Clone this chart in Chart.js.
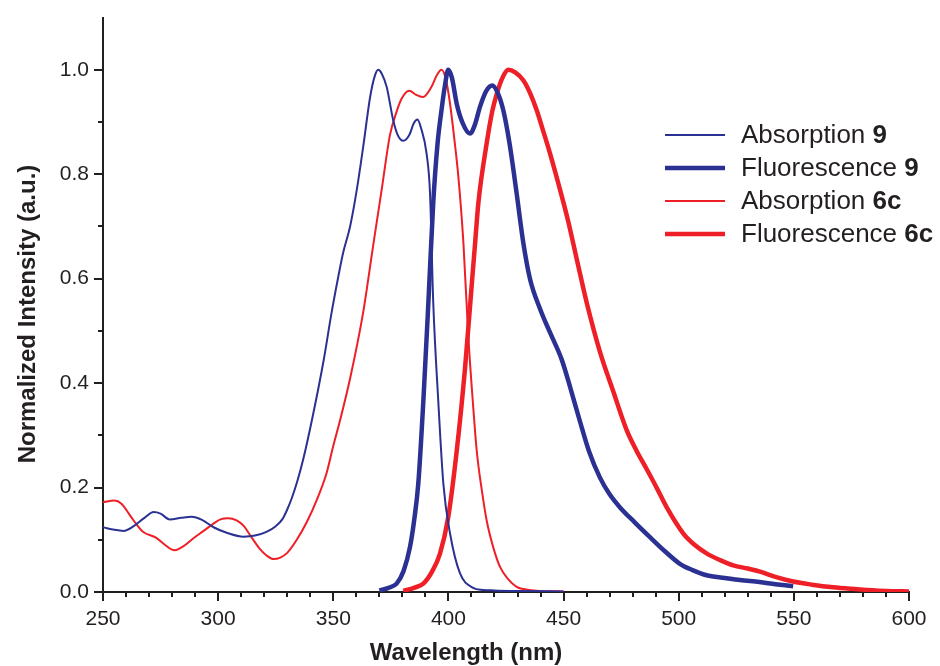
<!DOCTYPE html>
<html>
<head>
<meta charset="utf-8">
<script src="https://cdn.jsdelivr.net/npm/chart.js@4.4.1/dist/chart.umd.min.js"></script>
<style>
    body { margin: 0; background: #fff; }
    #chart { display: block; }
</style>
</head>
<body>
<canvas id="chart" width="940" height="666"></canvas>
<script>
// wavelength (nm) / normalized intensity
const abs9X = [250, 255, 259, 263, 268, 272, 275, 279, 284, 288.5, 293, 298, 304, 311, 316, 321, 325, 328, 330, 332, 334.5, 337, 341, 345.7, 349.3, 352, 354.3, 357.3, 360.2, 363, 366, 368, 369.5, 371, 373.2, 376, 378, 380.4, 383, 385, 386.6, 388, 390.5, 392, 393.4, 395.6, 397.8, 400.7, 405, 410.7, 415, 420, 430, 450];
const abs9Y = [0.124, 0.119, 0.117, 0.125, 0.142, 0.153, 0.150, 0.139, 0.142, 0.144, 0.138, 0.124, 0.113, 0.106, 0.108, 0.115, 0.126, 0.14, 0.158, 0.18, 0.214, 0.255, 0.335, 0.441, 0.536, 0.6, 0.65, 0.7, 0.77, 0.853, 0.948, 0.988, 1.0, 0.993, 0.967, 0.904, 0.875, 0.864, 0.875, 0.898, 0.905, 0.89, 0.84, 0.764, 0.555, 0.365, 0.207, 0.112, 0.036, 0.008, 0.004, 0.003, 0.002, 0.001];

const fl9X = [370, 374, 377.5, 380.5, 383.3, 385.2, 386.9, 389.1, 391.3, 393.4, 395.3, 397, 398.5, 399.9, 401.5, 403.6, 406, 409.4, 411.5, 413.7, 416.5, 419, 421.5, 423.8, 426.5, 429.6, 432.5, 435.4, 439.8, 444.1, 449.2, 453, 457.1, 461, 465.8, 470, 474.5, 481, 487.5, 494, 500.5, 506, 512.1, 520, 526.6, 535, 542, 549.7];
const fl9Y = [0.003, 0.008, 0.016, 0.04, 0.086, 0.14, 0.207, 0.365, 0.555, 0.745, 0.86, 0.923, 0.97, 1.0, 0.985, 0.935, 0.9, 0.878, 0.895, 0.929, 0.96, 0.97, 0.955, 0.923, 0.86, 0.764, 0.669, 0.6, 0.542, 0.497, 0.445, 0.39, 0.327, 0.27, 0.219, 0.187, 0.162, 0.133, 0.105, 0.078, 0.054, 0.042, 0.032, 0.027, 0.023, 0.019, 0.015, 0.011];

const abs6cX = [250, 255, 258, 262, 265, 267.5, 273, 277, 281, 285, 289, 294, 298, 301, 304.4, 308, 311, 314, 318, 321, 324, 327, 330, 334, 338.4, 342.8, 347.1, 350, 353, 357.3, 363, 367.3, 371, 374.6, 377.5, 379.7, 383, 386, 389, 392.6, 395, 397, 399, 400.7, 402.5, 404.3, 406.5, 408.6, 410.5, 412.3, 414.5, 416.6, 419.5, 422.4, 426, 429.6, 435, 440, 450];
const abs6cY = [0.172, 0.175, 0.169, 0.145, 0.127, 0.115, 0.104, 0.09, 0.08, 0.088, 0.102, 0.118, 0.131, 0.139, 0.141, 0.137, 0.127, 0.108, 0.083, 0.07, 0.063, 0.066, 0.075, 0.099, 0.133, 0.176, 0.228, 0.28, 0.33, 0.409, 0.536, 0.663, 0.77, 0.875, 0.92, 0.945, 0.96, 0.952, 0.948, 0.967, 0.99, 1.0, 0.98, 0.935, 0.87, 0.796, 0.669, 0.492, 0.37, 0.27, 0.195, 0.137, 0.085, 0.048, 0.024, 0.01, 0.004, 0.002, 0.001];

const fl6cX = [380.4, 385, 389.1, 393, 396.3, 399.9, 403.6, 407.2, 410.1, 411.6, 413, 416.6, 419, 421, 423.5, 426, 429, 432.5, 435.5, 438.3, 441, 444.1, 448, 452, 456, 460, 465.8, 471.6, 477.4, 481.5, 486, 490.5, 494.8, 502, 507, 512.1, 518, 523.7, 530, 535.3, 542, 549.7, 558, 567.1, 575, 581.6, 590, 600];
const fl6cY = [0.002, 0.008, 0.016, 0.04, 0.073, 0.143, 0.27, 0.428, 0.587, 0.669, 0.745, 0.859, 0.92, 0.954, 0.985, 1.0, 0.995, 0.98, 0.955, 0.923, 0.885, 0.84, 0.778, 0.71, 0.632, 0.555, 0.46, 0.384, 0.31, 0.272, 0.236, 0.199, 0.162, 0.112, 0.09, 0.074, 0.061, 0.051, 0.045, 0.039, 0.029, 0.02, 0.014, 0.009, 0.006, 0.004, 0.002, 0.001];

const seriesNames = [['Absorption ', '9'], ['Fluorescence ', '9'], ['Absorption ', '6c'], ['Fluorescence ', '6c']];

const BLUE = '#2b3192';
const RED = '#ee1f26';
const INK = '#231f20';
const FONT = "'Liberation Sans', Arial, Helvetica, sans-serif";

const toPoints = (xs, ys) => xs.map((x, i) => ({ x: x, y: ys[i] }));

const line = (label, xs, ys, color, width) => ({
    label: label,
    data: toPoints(xs, ys),
    borderColor: color,
    backgroundColor: color,
    borderWidth: width,
    pointRadius: 0,
    fill: false,
    cubicInterpolationMode: 'monotone',
});

// tick marks (major long, minor short), axis titles and the legend
const decor = {
    id: 'decor',
    afterDraw(chart) {
        const ctx = chart.ctx;
        const xs = chart.scales.x;
        const ys = chart.scales.y;
        const area = chart.chartArea;
        ctx.save();
        ctx.strokeStyle = INK;
        ctx.lineWidth = 2;
        ctx.beginPath();
        xs.ticks.forEach(t => {
            const px = Math.round(xs.getPixelForValue(t.value));
            const len = Math.round(t.value) % 50 === 0 ? 9 : 5;
            ctx.moveTo(px, area.bottom);
            ctx.lineTo(px, area.bottom + len);
        });
        ys.ticks.forEach(t => {
            if (t.value > 1.05) return;
            const py = Math.round(ys.getPixelForValue(t.value));
            const len = Math.round(t.value * 10) % 2 === 0 ? 9 : 5;
            ctx.moveTo(area.left, py);
            ctx.lineTo(area.left - len, py);
        });
        ctx.stroke();

        ctx.fillStyle = INK;
        ctx.font = 'bold 24px ' + FONT;
        ctx.textAlign = 'center';
        ctx.textBaseline = 'middle';
        ctx.fillText('Wavelength (nm)', 466, 653);
        ctx.save();
        ctx.translate(28, 314);
        ctx.rotate(-Math.PI / 2);
        ctx.fillText('Normalized Intensity (a.u.)', 0, 0);
        ctx.restore();

        // legend
        const rows = [135, 168, 201, 234];
        ctx.textAlign = 'left';
        chart.data.datasets.forEach((ds, i) => {
            const y = rows[i];
            ctx.strokeStyle = ds.borderColor;
            ctx.lineWidth = ds.borderWidth;
            ctx.beginPath();
            ctx.moveTo(665, y);
            ctx.lineTo(725, y);
            ctx.stroke();
            ctx.fillStyle = INK;
            ctx.font = '26px ' + FONT;
            ctx.fillText(seriesNames[i][0], 741, y + 1);
            const w = ctx.measureText(seriesNames[i][0]).width;
            ctx.font = 'bold 26px ' + FONT;
            ctx.fillText(seriesNames[i][1], 741 + w, y + 1);
        });
        ctx.restore();
    }
};

new Chart(document.getElementById('chart'), {
    type: 'line',
    data: {
        datasets: [
            line('Absorption 9', abs9X, abs9Y, BLUE, 2),
            line('Fluorescence 9', fl9X, fl9Y, BLUE, 4.5),
            line('Absorption 6c', abs6cX, abs6cY, RED, 2),
            line('Fluorescence 6c', fl6cX, fl6cY, RED, 4.5),
        ]
    },
    options: {
        responsive: false,
        animation: false,
        layout: { padding: { top: 12, right: 31, left: 0, bottom: 0 } },
        plugins: {
            legend: { display: false },
            tooltip: { enabled: false },
        },
        scales: {
            x: {
                type: 'linear',
                min: 250,
                max: 600,
                afterFit: s => { s.height = 74; },
                border: { display: true, color: INK, width: 2 },
                grid: { drawOnChartArea: false, tickLength: 9, tickColor: 'transparent' },
                ticks: {
                    stepSize: 10,
                    autoSkip: false,
                    maxRotation: 0,
                    padding: 6,
                    color: INK,
                    font: { family: FONT, size: 21 },
                    callback: v => (Math.round(v) % 50 === 0 ? String(v) : ''),
                },
            },
            y: {
                min: 0,
                max: 1.1,
                afterFit: s => { s.width = 103; },
                border: { display: true, color: INK, width: 2 },
                grid: { drawOnChartArea: false, tickLength: 9, tickColor: 'transparent' },
                ticks: {
                    stepSize: 0.1,
                    autoSkip: false,
                    padding: 5,
                    color: INK,
                    font: { family: FONT, size: 21 },
                    callback: v => {
                        const k = Math.round(v * 10);
                        return k % 2 === 0 && k <= 10 ? (k / 10).toFixed(1) : '';
                    },
                },
            },
        },
    },
    plugins: [decor],
});
</script>
</body>
</html>
